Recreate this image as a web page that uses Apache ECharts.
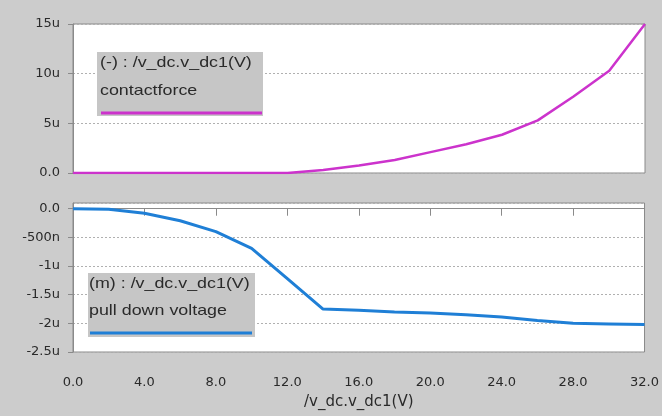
<!DOCTYPE html>
<html>
<head>
<meta charset="utf-8">
<script src="https://cdn.jsdelivr.net/npm/echarts@6/dist/echarts.min.js"></script>
<style>
html,body{margin:0;padding:0;background:#cccccc;}
#chart{width:662px;height:416px;}
</style>
</head>
<body>
<div id="chart"></div>
<script>
// sweep variable /v_dc.v_dc1 (V)
var sweepV = [0, 2, 4, 6, 8, 10, 12, 14, 16, 18, 20, 22, 24, 26, 28, 30, 32];
// contactforce, in micro units
var contactForce = [0, 0, 0, 0, 0, 0, 0, 0.3, 0.75, 1.3, 2.1, 2.9, 3.85, 5.3, 7.7, 10.3, 15.0];
// pull down voltage, in micro units
var pullDown = [0, -0.01, -0.08, -0.21, -0.4, -0.69, -1.22, -1.75, -1.77, -1.80, -1.82, -1.85, -1.89, -1.95, -2.0, -2.01, -2.02];
var xTicks = ['0.0', '4.0', '8.0', '12.0', '16.0', '20.0', '24.0', '28.0', '32.0'];
var topTickLabels = {0: '0.0', 5: '5u', 10: '10u', 15: '15u'};
var botTickLabels = {'0': '0.0', '-0.5': '-500n', '-1': '-1u', '-1.5': '-1.5u', '-2': '-2u', '-2.5': '-2.5u'};

function pairs(xs, ys) { return xs.map(function (x, i) { return [x, ys[i]]; }); }

var chart = echarts.init(document.getElementById('chart'), null, {renderer: 'canvas'});
var labelFont = {color: '#2a2a2a', fontFamily: 'DejaVu Sans', fontSize: 13};
var axisGray = '#8a8a8a';

chart.setOption({
  backgroundColor: '#cccccc',
  animation: false,
  grid: [
    {left: 73, right: 17, top: 24, height: 149, show: true, backgroundColor: '#ffffff', borderColor: axisGray, borderWidth: 1},
    {left: 73, right: 17, top: 203, height: 149, show: true, backgroundColor: '#ffffff', borderColor: axisGray, borderWidth: 1}
  ],
  xAxis: [
    {gridIndex: 0, type: 'value', min: 0, max: 32, interval: 4, show: false, splitLine: {show: false}},
    {gridIndex: 1, type: 'value', min: 0, max: 32, interval: 4, offset: 5,
      axisLine: {show: true, lineStyle: {color: axisGray}},
      axisTick: {show: true, length: 7, lineStyle: {color: axisGray}},
      splitLine: {show: false},
      axisLabel: Object.assign({margin: 19, formatter: function (v) { var i = Math.round(v / 4); return xTicks[i] || ''; }}, labelFont),
      name: '/v_dc.v_dc1(V)', nameLocation: 'middle', nameGap: 38,
      nameTextStyle: {color: '#2a2a2a', fontFamily: 'DejaVu Sans', fontSize: 15}
    }
  ],
  yAxis: [
    {gridIndex: 0, type: 'value', min: 0, max: 15, interval: 5, offset: 3,
      axisLine: {show: true, lineStyle: {color: axisGray}},
      axisTick: {show: true, length: 5, lineStyle: {color: axisGray}},
      splitLine: {show: true, lineStyle: {color: '#b0b0b0', type: [2, 2], width: 1}},
      axisLabel: Object.assign({margin: 10, formatter: function (v) { return topTickLabels[v] || ''; }}, labelFont)
    },
    {gridIndex: 1, type: 'value', min: -2.5, max: 0.1, interval: 0.5, offset: 3,
      axisLine: {show: true, lineStyle: {color: axisGray}},
      axisTick: {show: true, length: 5, lineStyle: {color: axisGray}},
      splitLine: {show: true, lineStyle: {color: '#b0b0b0', type: [2, 2], width: 1}},
      axisLabel: Object.assign({margin: 10, showMaxLabel: false, formatter: function (v) { var k = String(Math.round(v * 10) / 10); return botTickLabels[k] || ''; }}, labelFont)
    }
  ],
  series: [
    {type: 'line', xAxisIndex: 0, yAxisIndex: 0, data: pairs(sweepV, contactForce), showSymbol: false, symbol: 'none',
      lineStyle: {color: '#cc33cc', width: 2.5}, itemStyle: {color: '#cc33cc'}},
    {type: 'line', xAxisIndex: 1, yAxisIndex: 1, data: pairs(sweepV, pullDown), showSymbol: false, symbol: 'none',
      lineStyle: {color: '#1f7fd6', width: 3}, itemStyle: {color: '#1f7fd6'}}
  ],
  graphic: [
    {type: 'rect', shape: {x: 97, y: 52, width: 166, height: 64}, style: {fill: '#c6c6c6'}, z: 100},
    {type: 'text', x: 100, y: 63, scaleX: 1.19, style: {text: '(-) : /v_dc.v_dc1(V)', fill: '#2a2a2a', font: '15px "Liberation Sans"', textVerticalAlign: 'middle'}, z: 101},
    {type: 'text', x: 100, y: 91, scaleX: 1.19, style: {text: 'contactforce', fill: '#2a2a2a', font: '15px "Liberation Sans"', textVerticalAlign: 'middle'}, z: 101},
    {type: 'line', shape: {x1: 101, y1: 113, x2: 262, y2: 113}, style: {stroke: '#cc33cc', lineWidth: 3}, z: 101},
    {type: 'rect', shape: {x: 88, y: 273, width: 167, height: 64}, style: {fill: '#c6c6c6'}, z: 100},
    {type: 'text', x: 89, y: 284, scaleX: 1.19, style: {text: '(m) : /v_dc.v_dc1(V)', fill: '#2a2a2a', font: '15px "Liberation Sans"', textVerticalAlign: 'middle'}, z: 101},
    {type: 'text', x: 89, y: 311, scaleX: 1.19, style: {text: 'pull down voltage', fill: '#2a2a2a', font: '15px "Liberation Sans"', textVerticalAlign: 'middle'}, z: 101},
    {type: 'line', shape: {x1: 90, y1: 333, x2: 252, y2: 333}, style: {stroke: '#1f7fd6', lineWidth: 3}, z: 101}
  ]
});
</script>
</body>
</html>
